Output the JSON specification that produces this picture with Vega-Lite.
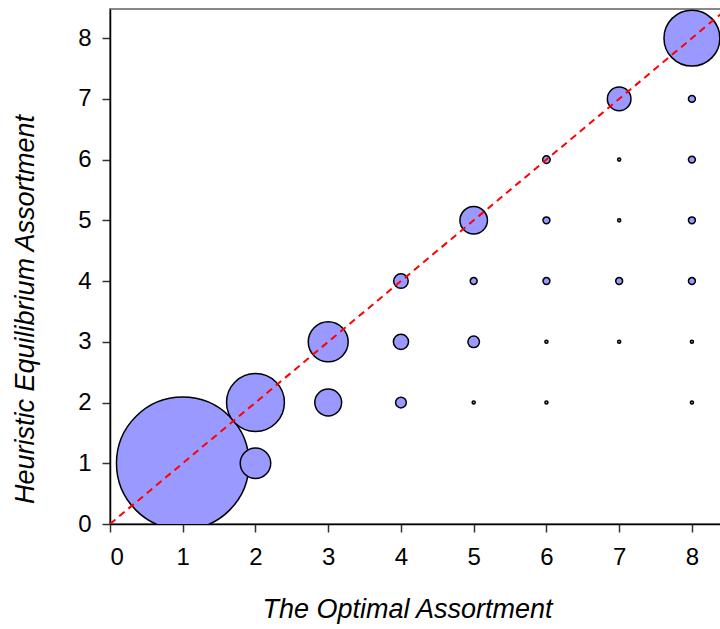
{
  "$schema": "https://vega.github.io/schema/vega-lite/v6.json",
  "autosize": {"type": "none"},
  "width": 611,
  "height": 515,
  "padding": {"left": 110, "top": 9, "right": 0, "bottom": 105},
  "background": "white",
  "config": {
    "view": {"stroke": "#888888", "strokeWidth": 2},
    "axis": {
      "grid": false,
      "domainColor": "black",
      "domainWidth": 1.5,
      "tickColor": "#333333",
      "tickWidth": 1.5,
      "tickSize": 8,
      "labelFont": "Liberation Sans",
      "labelFontSize": 24,
      "labelColor": "black",
      "format": "d",
      "titleFont": "Liberation Sans",
      "titleFontSize": 27,
      "titleFontStyle": "italic",
      "titleFontWeight": "normal",
      "titleColor": "black"
    }
  },
  "datasets": {
    "cells": [
      {"optimal": 1, "heuristic": 1, "count": 1829},
      {"optimal": 2, "heuristic": 2, "count": 349},
      {"optimal": 2, "heuristic": 1, "count": 97},
      {"optimal": 3, "heuristic": 3, "count": 166},
      {"optimal": 3, "heuristic": 2, "count": 75},
      {"optimal": 4, "heuristic": 4, "count": 22},
      {"optimal": 4, "heuristic": 3, "count": 24},
      {"optimal": 4, "heuristic": 2, "count": 12},
      {"optimal": 5, "heuristic": 5, "count": 79},
      {"optimal": 5, "heuristic": 4, "count": 5},
      {"optimal": 5, "heuristic": 3, "count": 14},
      {"optimal": 5, "heuristic": 2, "count": 1},
      {"optimal": 6, "heuristic": 6, "count": 6},
      {"optimal": 6, "heuristic": 5, "count": 5},
      {"optimal": 6, "heuristic": 4, "count": 5},
      {"optimal": 6, "heuristic": 3, "count": 1},
      {"optimal": 6, "heuristic": 2, "count": 1},
      {"optimal": 7, "heuristic": 7, "count": 58},
      {"optimal": 7, "heuristic": 6, "count": 1},
      {"optimal": 7, "heuristic": 5, "count": 1},
      {"optimal": 7, "heuristic": 4, "count": 5},
      {"optimal": 7, "heuristic": 3, "count": 1},
      {"optimal": 8, "heuristic": 8, "count": 325},
      {"optimal": 8, "heuristic": 7, "count": 5},
      {"optimal": 8, "heuristic": 6, "count": 5},
      {"optimal": 8, "heuristic": 5, "count": 5},
      {"optimal": 8, "heuristic": 4, "count": 5},
      {"optimal": 8, "heuristic": 3, "count": 1},
      {"optimal": 8, "heuristic": 2, "count": 1}
    ],
    "diagonal": [
      {"optimal": 0, "heuristic": 0},
      {"optimal": 8.6, "heuristic": 8.6}
    ]
  },
  "layer": [
    {
      "data": {"name": "cells"},
      "mark": {"type": "circle", "clip": true, "fill": "#9999FF", "fillOpacity": 1, "stroke": "black", "strokeWidth": 1.5, "opacity": 1},
      "encoding": {
        "x": {
          "field": "optimal", "type": "quantitative",
          "scale": {"domain": [0, 8.4], "nice": false, "zero": true},
          "axis": {"values": [0, 1, 2, 3, 4, 5, 6, 7, 8], "title": "The Optimal Assortment", "labelPadding": 13, "titleX": 297, "titleY": 93, "titleBaseline": "alphabetic", "titleAlign": "center"}
        },
        "y": {
          "field": "heuristic", "type": "quantitative",
          "scale": {"domain": [0, 8.48], "nice": false, "zero": true},
          "axis": {"values": [0, 1, 2, 3, 4, 5, 6, 7, 8], "title": "Heuristic Equilibrium Assortment", "labelPadding": 11, "titleX": -85, "titleY": 300, "titleAngle": -90, "titleBaseline": "middle", "titleAlign": "center"}
        },
        "size": {
          "field": "count", "type": "quantitative",
          "scale": {"type": "linear", "domain": [0, 1000], "range": [0, 9600], "zero": true},
          "legend": null
        }
      }
    },
    {
      "data": {"name": "diagonal"},
      "mark": {"type": "line", "clip": true, "color": "#FF0000", "strokeWidth": 2, "strokeDash": [7, 5]},
      "encoding": {
        "x": {"field": "optimal", "type": "quantitative"},
        "y": {"field": "heuristic", "type": "quantitative"}
      }
    }
  ]
}
